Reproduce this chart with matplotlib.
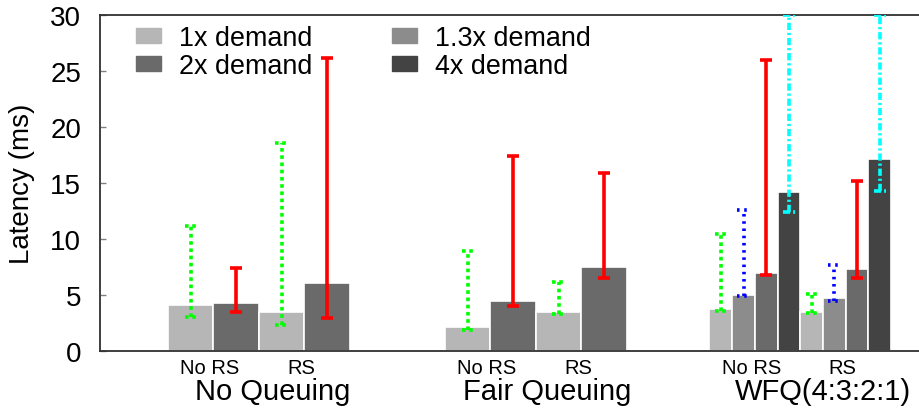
import numpy as np
import matplotlib
matplotlib.use('Agg')
import matplotlib.pyplot as plt
from matplotlib.patches import Patch
from matplotlib.transforms import blended_transform_factory

plt.rcParams['font.family'] = ['Liberation Sans', 'DejaVu Sans']

# data: one entry per sub-group
# (No Queuing NoRS, No Queuing RS, Fair NoRS, Fair RS, WFQ NoRS, WFQ RS)
groups = ['No Queuing', 'Fair Queuing', 'WFQ(4:3:2:1)']
subgroups = ['No RS', 'RS']
series = ['1x demand', '1.3x demand', '2x demand', '4x demand']
nan = np.nan

lat_1x = [4.13, 3.48, 2.14, 3.51, 3.78, 3.51]
lo_1x = [3.1, 2.38, 1.9, 3.33, 3.63, 3.42]
hi_1x = [11.16, 18.57, 8.98, 6.21, 10.45, 5.12]

lat_13x = [nan, nan, nan, nan, 5.03, 4.76]
lo_13x = [nan, nan, nan, nan, 4.97, 4.52]
hi_13x = [nan, nan, nan, nan, 12.62, 7.73]

lat_2x = [4.3, 6.07, 4.46, 7.53, 6.99, 7.35]
lo_2x = [3.48, 2.95, 4.04, 6.52, 6.79, 6.52]
hi_2x = [7.46, 26.13, 17.41, 15.92, 25.95, 15.2]

lat_4x = [nan, nan, nan, nan, 14.22, 17.17]
lo_4x = [nan, nan, nan, nan, 12.47, 14.34]
hi_4x = [nan, nan, nan, nan, 30.0, 30.0]

# styles
bar_colors = ['#b6b6b6', '#8c8c8c', '#6a6a6a', '#434343']
err_colors = ['#00ff00', '#0000ff', '#ff0000', '#00ffff']
err_styles = [(0, (1, 1)), (0, (0.7, 1.3)), '-', (0, (2, 0.8, 0.6, 0.8))]

lat = [lat_1x, lat_13x, lat_2x, lat_4x]
lo = [lo_1x, lo_13x, lo_2x, lo_4x]
hi = [hi_1x, hi_13x, hi_2x, hi_4x]

# layout (x units = width of one narrow bar)
sub_centers = [5.0, 9.0, 17.2, 21.2, 28.85, 32.85]
group_label_shift = [0.6, 0.5, 1.0]

fig = plt.figure(figsize=(9.19, 4.10), dpi=100)
ax = fig.add_axes([0.1088, 0.1407, 0.8912, 0.8203])

cap = 0.27
for k, c in enumerate(sub_centers):
    present = [s for s in range(4) if not np.isnan(lat[s][k])]
    n = len(present)
    w = 4.0 / n
    for i, s in enumerate(present):
        x = c + (i - (n - 1) / 2) * w
        ax.bar(x, lat[s][k], width=w, color=bar_colors[s],
               edgecolor='white', linewidth=1.2, zorder=2)
        ax.vlines(x, lo[s][k], hi[s][k], color=err_colors[s],
                  linestyles=err_styles[s], linewidth=2.6, zorder=3)
        ax.hlines([lo[s][k], hi[s][k]], x - cap, x + cap, color=err_colors[s],
                  linestyles=err_styles[s], linewidth=2.6, zorder=3)

ax.set_xlim(0, 36.08)
ax.set_ylim(0, 30)
ax.set_yticks(range(0, 31, 5))
ax.tick_params(axis='y', direction='in', length=4.3, width=1, color='#808080',
               pad=13.5, labelsize=20)
ax.set_xticks([c - 0.15 for c in sub_centers])
ax.set_xticklabels(subgroups * 3)
ax.tick_params(axis='x', length=0, pad=5, labelsize=14.5)

trans = blended_transform_factory(ax.transData, ax.transAxes)
for g, name in enumerate(groups):
    gx = (sub_centers[2 * g] + sub_centers[2 * g + 1]) / 2 + group_label_shift[g]
    ax.text(gx, -0.118, name, transform=trans, ha='center', va='center',
            fontsize=21)

ax.set_ylabel('Latency (ms)', fontsize=20)
ax.yaxis.set_label_coords(-0.0794, 0.5)

ax.spines['right'].set_visible(False)
for sp in ['left', 'top', 'bottom']:
    ax.spines[sp].set_color('#303030')
    ax.spines[sp].set_linewidth(1.3)

handles = [Patch(color=bar_colors[s]) for s in [0, 2, 1, 3]]
labels = [series[s] for s in [0, 2, 1, 3]]
ax.legend(handles, labels, ncol=2, loc='upper left',
          bbox_to_anchor=(0.044, 0.97), frameon=False, fontsize=19.4,
          handlelength=0.92, handleheight=0.48, handletextpad=0.68,
          columnspacing=2.95, labelspacing=0.08, borderpad=0, borderaxespad=0)

fig.savefig('out.png', dpi=100)
